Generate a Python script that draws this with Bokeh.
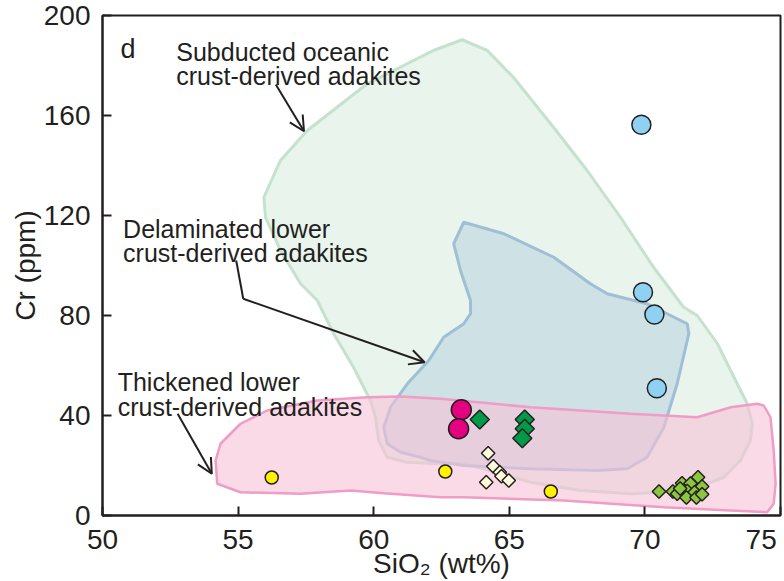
import math
from bokeh.plotting import figure
from bokeh.models import Range1d, FixedTicker, Arrow, OpenHead
from bokeh.core.properties import value
from bokeh.embed import file_html
from bokeh.resources import INLINE

# ---------------- data ----------------
x_ticks = [50, 55, 60, 65, 70, 75]
y_ticks = [0, 40, 80, 120, 160, 200]

# field boundaries (SiO2 wt%, Cr ppm)
subducted_sio2 = [63.26, 64.19, 65.15, 66.63, 67.87, 69.10, 70.32, 71.43, 71.93, 72.67, 73.40, 73.77,
                  73.96, 73.89, 73.52, 72.90, 71.93, 70.69, 69.47, 67.63, 65.78, 64.55, 63.31, 62.20,
                  61.24, 60.50, 60.18, 60.07, 59.88, 59.26, 58.52, 57.92, 57.30, 56.56, 56.01, 55.95,
                  56.56, 57.55, 59.76, 62.20]
subducted_cr = [190.3, 186.0, 175.3, 155.3, 138.0, 119.3, 99.3, 83.3, 80.0, 68.8, 52.8, 44.8,
                36.8, 30.0, 22.0, 15.2, 11.3, 9.3, 8.7, 10.0, 13.3, 17.3, 20.8, 20.8,
                21.3, 23.3, 30.0, 39.2, 46.0, 59.2, 72.8, 86.0, 92.8, 106.0, 119.3, 127.3,
                142.0, 154.0, 172.7, 186.0]

delaminated_sio2 = [63.32, 64.80, 66.64, 67.99, 68.61, 70.08, 71.56, 71.62, 71.19, 70.70, 70.08, 69.35,
                    68.24, 65.78, 63.32, 62.09, 61.73, 60.99, 60.50, 60.37, 60.62, 61.24, 62.03, 62.58,
                    63.32, 63.57, 63.57, 63.20, 62.95]
delaminated_cr = [117.3, 112.7, 103.3, 92.7, 88.7, 84.7, 76.7, 72.7, 52.7, 35.3, 23.3, 18.7,
                  18.0, 18.7, 20.0, 22.0, 23.3, 25.3, 28.7, 35.3, 43.3, 52.7, 62.0, 71.3,
                  76.7, 80.7, 86.0, 98.0, 108.7]

thickened_sio2 = [54.17, 54.35, 55.09, 56.07, 57.92, 59.76, 60.99, 62.46, 65.78, 69.47, 71.93, 73.17,
                  74.14, 74.38, 74.63, 74.75, 74.82, 74.75, 74.51, 73.15, 70.70, 67.01, 63.32, 62.46,
                  60.37, 59.14, 57.30, 55.09, 54.23]
thickened_cr = [22.0, 28.7, 36.7, 42.0, 46.0, 47.3, 47.6, 46.7, 43.3, 40.7, 39.3, 43.3,
                44.7, 44.0, 39.3, 26.0, 12.7, 4.7, 1.3, 2.0, 3.3, 6.0, 7.3, 7.3,
                8.9, 10.0, 8.7, 9.3, 12.7]

# samples
blue_sio2 = [69.87, 69.93, 70.35, 70.44]
blue_cr = [156.3, 89.3, 80.4, 50.9]
magenta_sio2 = [63.23, 63.13]
magenta_cr = [42.3, 34.7]
green_sio2 = [63.91, 65.57, 65.57, 65.48]
green_cr = [38.4, 38.4, 34.7, 30.9]
cream_sio2 = [64.22, 64.41, 64.65, 64.71, 64.98, 64.15]
cream_cr = [24.9, 19.7, 17.3, 15.7, 14.0, 13.3]
yellow_sio2 = [56.24, 62.64, 66.53]
yellow_cr = [15.2, 17.6, 9.6]
lime_sio2 = [70.52, 71.03, 71.37, 71.96, 71.68, 72.11, 71.56, 71.19, 71.83, 71.53, 71.90, 72.11, 71.30]
lime_cr = [9.6, 9.6, 12.9, 15.3, 12.8, 11.6, 9.8, 8.7, 9.3, 7.2, 7.2, 8.5, 10.8]

INK = "#231F20"
FONT = "Liberation Sans"

p = figure(title=None, frame_width=678, frame_height=500,
           min_border_left=102, min_border_right=4, min_border_top=15, min_border_bottom=66,
           x_range=Range1d(50, 75), y_range=Range1d(0, 200),
           output_backend="svg", toolbar_location=None)
p.grid.visible = False
p.background_fill_color = "white"
p.border_fill_color = "white"
p.outline_line_color = INK
p.outline_line_width = 2
p.outline_line_alpha = 1

for ax in (p.xaxis[0], p.yaxis[0]):
    ax.axis_line_color = INK
    ax.axis_line_width = 2
    ax.major_tick_line_color = INK
    ax.major_tick_line_width = 2
    ax.major_tick_in = 9
    ax.major_tick_out = 0
    ax.minor_tick_line_color = None
    ax.major_label_text_font = FONT
    ax.major_label_text_font_size = "28px"
    ax.major_label_text_color = INK
    ax.axis_label_text_font = FONT
    ax.axis_label_text_font_size = "28px"
    ax.axis_label_text_font_style = "normal"
    ax.axis_label_text_color = INK

p.xaxis.ticker = FixedTicker(ticks=x_ticks)
p.yaxis.ticker = FixedTicker(ticks=y_ticks)
p.xaxis.major_label_overrides = {75: "75\u00a0"}
p.xaxis.major_label_standoff = 8
p.yaxis.major_label_standoff = 12
p.xaxis.axis_label = "SiO\u2082 (wt%)"
p.yaxis.axis_label = "Cr (ppm)"
p.xaxis.axis_label_standoff = -10
p.yaxis.axis_label_standoff = 0

# fields
p.patch(subducted_sio2, subducted_cr, fill_color="#E8F4EC", fill_alpha=1.0,
        line_color="#C4E2CE", line_width=3)
p.patch(delaminated_sio2, delaminated_cr, fill_color="#BDD3E0", fill_alpha=0.6,
        line_color="#A0BED4", line_width=3)
p.patch(thickened_sio2, thickened_cr, fill_color="#F7C1D7", fill_alpha=0.6,
        line_color="#F09CC6", line_width=2.5)

# labels
def label(x, y, t, size="25px"):
    p.text(x=[x], y=[y], text=[t], text_font=value(FONT), text_font_size=size,
           text_color=INK, text_align="left", text_baseline="alphabetic")

label(50.66, 186.8, "d", "27px")
label(52.72, 185.3, "Subducted oceanic")
label(52.72, 175.7, "crust-derived adakites")
label(50.76, 114.7, "Delaminated lower")
label(50.76, 105.1, "crust-derived adakites")
label(50.56, 53.3, "Thickened lower")
label(50.56, 43.3, "crust-derived adakites")

# arrows
def arrow(x0, y0, x1, y1):
    p.add_layout(Arrow(end=OpenHead(size=15, line_width=2, line_color=INK),
                       x_start=x0, y_start=y0, x_end=x1, y_end=y1,
                       line_width=2, line_color=INK))

arrow(56.39, 172.4, 57.43, 153.7)
p.line([54.93, 55.19], [102.0, 86.7], line_width=2, line_color=INK)
arrow(55.19, 86.7, 61.875, 61.3)
arrow(52.77, 40.7, 54.03, 16.7)

# samples
rot = math.pi / 4
p.scatter(yellow_sio2, yellow_cr, marker="circle", size=13, fill_color="#FFF100",
          line_color=INK, line_width=1.5)
p.scatter(cream_sio2, cream_cr, marker="square", angle=rot, size=9.5, fill_color="#FFFCDC",
          line_color=INK, line_width=1.5)
p.scatter(lime_sio2, lime_cr, marker="square", angle=rot, size=9.5, fill_color="#8CC63F",
          line_color=INK, line_width=1.5)
p.scatter(green_sio2, green_cr, marker="square", angle=rot, size=13.5, fill_color="#009A49",
          line_color=INK, line_width=1.5)
p.scatter(magenta_sio2, magenta_cr, marker="circle", size=20, fill_color="#E4007F",
          line_color=INK, line_width=1.5)
p.scatter(blue_sio2, blue_cr, marker="circle", size=19, fill_color="#8ED1F2",
          line_color=INK, line_width=1.5)

open("out.html", "w").write(file_html(p, INLINE))
